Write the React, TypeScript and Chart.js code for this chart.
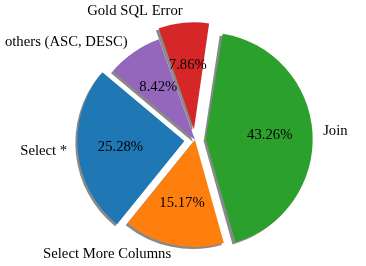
import React, { useEffect, useRef } from 'react';
import { Chart, registerables } from 'chart.js';

Chart.register(...registerables);

// Slices listed clockwise starting at 140° (matplotlib counter-clockwise order reversed)
const labels = ['others (ASC, DESC)', 'Gold SQL Error', 'Join', 'Select More Columns', 'Select *'];
const values = [8.42, 7.86, 43.26, 15.17, 25.28];
const colors = ['#9467bd', '#d62728', '#2ca02c', '#ff7f0e', '#1f77b4'];
const explode = [0, 0.1, 0.1, 0, 0.1];

const RADIUS = 107;
const FONT = '14.7px "Liberation Serif", "Times New Roman", serif';
const SHADOW = 2;

const mplPie = {
  id: 'mplPie',
  beforeDatasetsDraw(chart: any) {
    const ctx = chart.ctx;
    const meta = chart.getDatasetMeta(0);
    meta.data.forEach((arc: any) => {
      const { x, y, startAngle, endAngle, outerRadius } = arc;
      const off = (arc.options.offset || 0) / 4;
      const half = (startAngle + endAngle) / 2;
      const cx = x + Math.cos(half) * off - SHADOW;
      const cy = y + Math.sin(half) * off + SHADOW;
      ctx.save();
      ctx.fillStyle = 'rgba(40,40,40,0.55)';
      ctx.beginPath();
      ctx.moveTo(cx, cy);
      ctx.arc(cx, cy, outerRadius, startAngle, endAngle);
      ctx.closePath();
      ctx.fill();
      ctx.restore();
    });
  },
  beforeDatasetDraw(chart: any) {
    const meta = chart.getDatasetMeta(0);
    meta.data.forEach((arc: any) => {
      const off = (arc.options.offset || 0) / 4;
      const circ = arc.endAngle - arc.startAngle;
      const fix = 1 - Math.sin(Math.min(Math.PI, circ));
      arc.$baseR = arc.outerRadius;
      arc.outerRadius = arc.outerRadius - off * fix;
    });
  },
  afterDatasetDraw(chart: any) {
    const meta = chart.getDatasetMeta(0);
    meta.data.forEach((arc: any) => {
      if (arc.$baseR !== undefined) arc.outerRadius = arc.$baseR;
    });
  },
  afterDraw(chart: any) {
    const ctx = chart.ctx;
    const meta = chart.getDatasetMeta(0);
    const total = values.reduce((a, b) => a + b, 0);
    ctx.save();
    ctx.font = FONT;
    ctx.fillStyle = '#000';
    ctx.textBaseline = 'middle';
    meta.data.forEach((arc: any, i: number) => {
      const off = (arc.options.offset || 0) / 4;
      const half = (arc.startAngle + arc.endAngle) / 2;
      const c = Math.cos(half);
      const s = Math.sin(half);
      const cx = arc.x + c * off;
      const cy = arc.y + s * off;
      const R = arc.outerRadius;
      ctx.textAlign = c > 0 ? 'left' : 'right';
      ctx.fillText(labels[i], cx + c * 1.1 * R, cy + s * 1.1 * R - 1);
      ctx.textAlign = 'center';
      const pct = ((values[i] / total) * 100).toFixed(2) + '%';
      ctx.fillText(pct, cx + c * 0.6 * R, cy + s * 0.6 * R);
    });
    ctx.restore();
  },
};

export default function App() {
  const ref = useRef<HTMLCanvasElement | null>(null);
  useEffect(() => {
    if (!ref.current) return;
    const chart = new Chart(ref.current, {
      type: 'pie',
      data: {
        labels,
        datasets: [
          {
            data: values,
            backgroundColor: colors,
            borderWidth: 0,
            offset: explode.map((e) => e * RADIUS * 4),
            hoverOffset: 0,
          } as any,
        ],
      },
      options: {
        animation: false,
        responsive: false,
        events: [],
        rotation: -50,
        radius: RADIUS,
        layout: { padding: { left: 24, right: 0, top: 14, bottom: 0 } },
        plugins: {
          legend: { display: false },
          tooltip: { enabled: false },
        },
      } as any,
      plugins: [mplPie],
    });
    return () => chart.destroy();
  }, []);
  return (
    <div style={{ position: 'absolute', left: 0, top: 0, width: 366, height: 266, background: '#fff' }}>
      <canvas ref={ref} width={366} height={266} />
    </div>
  );
}
